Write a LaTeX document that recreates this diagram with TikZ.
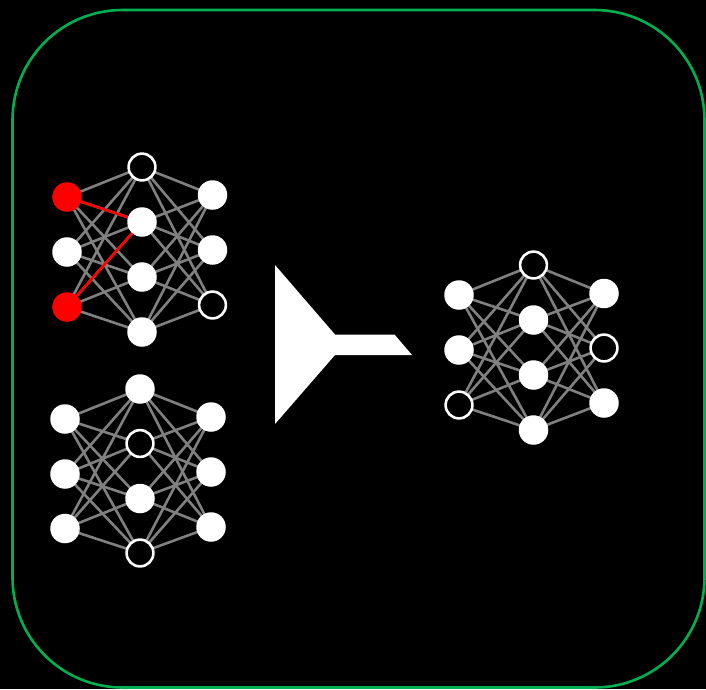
\documentclass[tikz,border=0pt]{standalone}
\definecolor{framegreen}{RGB}{0,176,80}
\pgfdeclarelayer{canvas}
\pgfdeclarelayer{wires}
\pgfsetlayers{canvas,wires,main}
\begin{document}
\begin{tikzpicture}[x=1pt,y=-1pt,
  unit/.style={circle,inner sep=0pt,minimum size=29.5pt,fill=white},
  hollow/.style={circle,inner sep=0pt,minimum size=26.8pt,draw=white,line width=2.6pt,fill=black},
  active/.style={unit,fill=red},
  wire/.style={draw=gray,line width=2.6pt},
  hot/.style={draw=red,line width=2.6pt},
  frame/.style={draw=framegreen,line width=2.6pt,rounded corners=110pt}]

\useasboundingbox (0,0) rectangle (706,689);
\begin{pgfonlayer}{canvas}
  \fill[black] (0,0) rectangle (706,689);
\end{pgfonlayer}

% outer frame
\draw[frame] (12.5,10) rectangle (704.5,687.5);

% network A (top left)
\node[active] (A-l1) at (67,197) {};
\node[unit]   (A-l2) at (67,252) {};
\node[active] (A-l3) at (67,307) {};
\node[hollow] (A-m1) at (142,167) {};
\node[unit]   (A-m2) at (142,222) {};
\node[unit]   (A-m3) at (142,277) {};
\node[unit]   (A-m4) at (142,332) {};
\node[unit]   (A-r1) at (212.5,195) {};
\node[unit]   (A-r2) at (212.5,250) {};
\node[hollow] (A-r3) at (212.5,305) {};

% network B (bottom left)
\node[unit]   (B-l1) at (65,419) {};
\node[unit]   (B-l2) at (65,474) {};
\node[unit]   (B-l3) at (65,528.5) {};
\node[unit]   (B-m1) at (140,389) {};
\node[hollow] (B-m2) at (140,443.5) {};
\node[unit]   (B-m3) at (140,498.5) {};
\node[hollow] (B-m4) at (140,553) {};
\node[unit]   (B-r1) at (211,417) {};
\node[unit]   (B-r2) at (211,472) {};
\node[unit]   (B-r3) at (211,527) {};

% network C (right, merged)
\node[unit]   (C-l1) at (459,295) {};
\node[unit]   (C-l2) at (459,350) {};
\node[hollow] (C-l3) at (459,405) {};
\node[hollow] (C-m1) at (533.5,265) {};
\node[unit]   (C-m2) at (533.5,320) {};
\node[unit]   (C-m3) at (533.5,375) {};
\node[unit]   (C-m4) at (533.5,430) {};
\node[unit]   (C-r1) at (604,293.5) {};
\node[hollow] (C-r2) at (604,348) {};
\node[unit]   (C-r3) at (604,403) {};

% fully connected layers
\begin{pgfonlayer}{wires}
  \foreach \n in {A,B,C}{
    \foreach \i in {1,2,3}{
      \foreach \j in {1,2,3,4}{
        \draw[wire] (\n-l\i.center) -- (\n-m\j.center);
        \draw[wire] (\n-m\j.center) -- (\n-r\i.center);
      }
    }
  }
  \draw[hot] (A-l1.center) -- (A-m2.center);
  \draw[hot] (A-l3.center) -- (A-m2.center);
\end{pgfonlayer}

% merge symbol
\fill[white] (275,265) -- (335,334.5) -- (394.5,334.5) -- (412,355)
  -- (335,355) -- (275,424) -- cycle;
\end{tikzpicture}
\end{document}
